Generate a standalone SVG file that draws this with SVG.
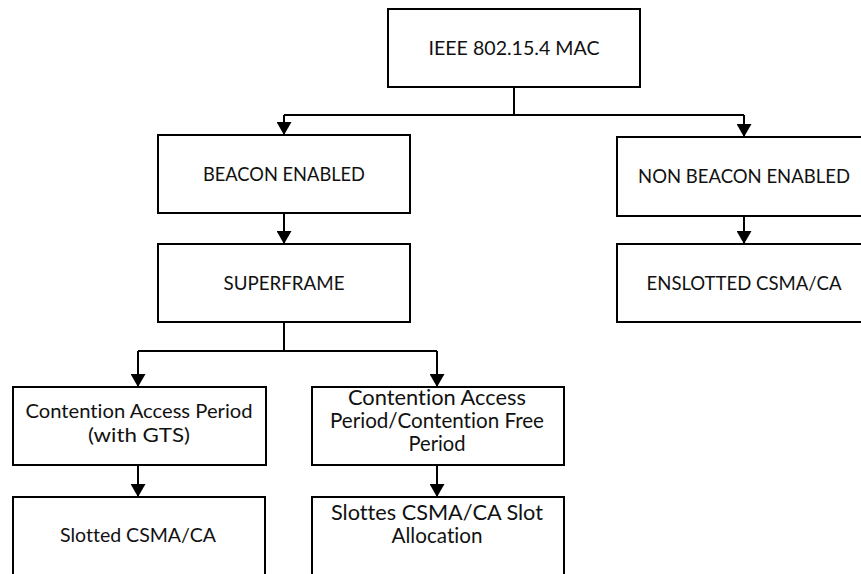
<svg xmlns="http://www.w3.org/2000/svg" width="861" height="574" viewBox="0 0 861 574">
  <style>
    .box { fill: #ffffff; stroke: #000000; stroke-width: 2; }
    .lbl { font-family: Lato, "Liberation Sans", sans-serif; font-size: 20px; fill: #111111; text-anchor: middle; font-variant-ligatures: none; }
    .caps { font-size: 19px; }
    .mid { font-size: 20.7px; }
    .wire { fill: none; stroke: #000000; stroke-width: 2; }
  </style>
  <defs>
    <!-- downward filled triangle, tip at the end of the connector -->
    <marker id="head" markerUnits="userSpaceOnUse" markerWidth="16" markerHeight="14" refX="7.5" refY="13" orient="0" viewBox="0 0 16 14">
      <path d="M0,0 L15,0 L7.5,13 Z" fill="#000000"/>
    </marker>
  </defs>

  <g id="connectors">
    <path class="wire" d="M514,87 V115"/>
    <path class="wire" d="M284,115 H744"/>
    <path class="wire" d="M284,115 V135" marker-end="url(#head)"/>
    <path class="wire" d="M744,115 V137" marker-end="url(#head)"/>
    <path class="wire" d="M284,213 V244" marker-end="url(#head)"/>
    <path class="wire" d="M744,216 V244" marker-end="url(#head)"/>
    <path class="wire" d="M284,322 V351"/>
    <path class="wire" d="M138,351 H437"/>
    <path class="wire" d="M138,351 V387" marker-end="url(#head)"/>
    <path class="wire" d="M437,351 V387" marker-end="url(#head)"/>
    <path class="wire" d="M138,465 V497" marker-end="url(#head)"/>
    <path class="wire" d="M437,465 V497" marker-end="url(#head)"/>
  </g>

  <g id="mac">
    <rect class="box" x="388" y="9" width="252" height="78"/>
    <text class="lbl" x="514" y="55" textLength="171" lengthAdjust="spacingAndGlyphs">IEEE 802.15.4 MAC</text>
  </g>

  <g id="beacon-enabled">
    <rect class="box" x="158" y="135" width="252" height="78"/>
    <text class="lbl caps" x="284" y="181" textLength="162" lengthAdjust="spacingAndGlyphs">BEACON ENABLED</text>
  </g>

  <g id="non-beacon-enabled">
    <rect class="box" x="617" y="137" width="260" height="79"/>
    <text class="lbl caps" x="744" y="183" textLength="212" lengthAdjust="spacingAndGlyphs">NON BEACON ENABLED</text>
  </g>

  <g id="enslotted">
    <rect class="box" x="617" y="244" width="260" height="78"/>
    <text class="lbl caps" x="744" y="290" textLength="195" lengthAdjust="spacingAndGlyphs">ENSLOTTED CSMA/CA</text>
  </g>

  <g id="superframe">
    <rect class="box" x="158" y="244" width="252" height="78"/>
    <text class="lbl caps" x="284" y="290" textLength="121" lengthAdjust="spacingAndGlyphs">SUPERFRAME</text>
  </g>

  <g id="cap-gts">
    <rect class="box" x="13" y="387" width="253" height="78"/>
    <text class="lbl" x="139" y="418" textLength="227" lengthAdjust="spacingAndGlyphs">Contention Access Period</text>
    <text class="lbl" x="139" y="442" textLength="102" lengthAdjust="spacingAndGlyphs">(with GTS)</text>
  </g>

  <g id="cap-cfp">
    <rect class="box" x="312" y="387" width="252" height="78"/>
    <text class="lbl mid" x="437" y="405" textLength="178" lengthAdjust="spacingAndGlyphs">Contention Access</text>
    <text class="lbl mid" x="437" y="428" textLength="214" lengthAdjust="spacingAndGlyphs">Period/Contention Free</text>
    <text class="lbl mid" x="437" y="451" textLength="57" lengthAdjust="spacingAndGlyphs">Period</text>
  </g>

  <g id="slotted">
    <rect class="box" x="13" y="497" width="252" height="90"/>
    <text class="lbl" x="138" y="542" textLength="156" lengthAdjust="spacingAndGlyphs">Slotted CSMA/CA</text>
  </g>

  <g id="slottes">
    <rect class="box" x="312" y="497" width="252" height="90"/>
    <text class="lbl mid" x="437" y="520" textLength="212" lengthAdjust="spacingAndGlyphs">Slottes CSMA/CA Slot</text>
    <text class="lbl mid" x="437" y="543" textLength="91" lengthAdjust="spacingAndGlyphs">Allocation</text>
  </g>
</svg>
